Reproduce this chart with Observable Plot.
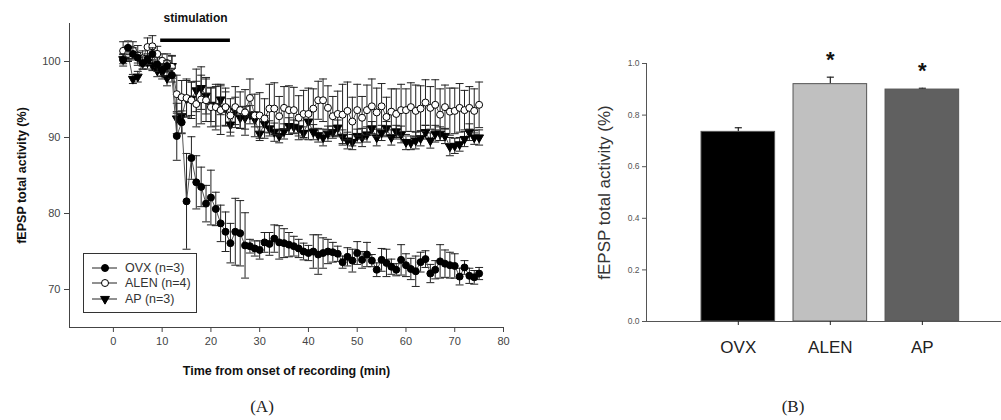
<!DOCTYPE html>
<html><head><meta charset="utf-8">
<script src="https://cdn.jsdelivr.net/npm/d3@7"></script>
<script src="https://cdn.jsdelivr.net/npm/@observablehq/plot@0.6"></script>
<style>
body{margin:0;background:#fff;width:1001px;height:420px;overflow:hidden;position:relative;font-family:Arial,"Liberation Sans",sans-serif}
#a{position:absolute;left:0;top:0}
#b{position:absolute;left:560px;top:0}
.cap{position:absolute;font-family:"Liberation Serif","DejaVu Serif",serif;font-size:17px;color:#222;transform:translateX(-50%)}
#legend{position:absolute;left:83px;top:253px;width:114px;height:60px;border:1px solid #333;box-sizing:border-box;background:#fff}
</style></head><body>
<div id="a"></div><div id="b"></div>
<div id="legend"></div>
<div class="cap" style="left:262px;top:397px">(A)</div>
<div class="cap" style="left:793px;top:397px">(B)</div>
<script>
// ---------- Panel A data ----------
const time = [2,3,4,5,6,7,8,9,10,11,12,13,14,15,16,17,18,19,20,21,22,23,24,25,26,27,28,29,30,31,32,33,34,35,36,37,38,39,40,41,42,43,44,45,46,47,48,49,50,51,52,53,54,55,56,57,58,59,60,61,62,63,64,65,66,67,68,69,70,71,72,73,74,75];
const ovx = [100.2,101.8,101.0,100.5,99.8,100.3,101.0,99.6,98.9,99.4,
  98.2,90.2,92.0,81.6,87.3,84.1,83.5,81.3,82.1,80.6,
  78.7,77.6,76.1,77.6,77.4,75.8,75.7,75.4,75.2,76.2,
  76.0,76.7,76.2,76.1,75.9,75.7,75.4,75.0,74.8,75.0,
  74.6,74.8,75.0,74.9,74.7,73.6,74.3,73.8,74.8,73.9,
  74.6,73.8,72.6,73.9,73.5,73.0,72.6,73.9,73.2,72.7,
  72.4,73.6,74.0,72.1,72.6,73.7,73.4,73.2,73.1,71.7,
  72.9,71.8,71.6,72.1];
const ovxErr = [0.8,0.9,0.8,0.7,0.8,0.7,0.8,0.9,0.8,0.7,
  0.9,3.2,1.5,6.3,2.8,3.5,2.6,2.4,3.6,2.2,
  2.4,2.6,2.6,4.4,4.3,4.3,0.9,1.0,1.2,1.3,
  1.5,1.8,2.2,1.9,1.6,1.3,1.2,1.1,1.0,2.2,
  2.6,2.0,1.6,1.3,1.0,0.8,1.2,1.5,1.5,1.1,
  1.6,0.8,0.9,1.5,1.8,1.0,0.8,2.0,1.5,1.4,
  2.0,1.3,1.1,1.2,1.2,2.2,1.8,1.7,1.6,1.1,
  0.9,1.0,0.9,0.8];
const alen = [101.4,101.0,101.5,100.8,100.4,101.9,102.0,101.0,100.1,99.8,
  99.3,95.7,95.3,95.2,94.9,94.4,95.0,94.9,94.0,94.0,
  93.6,94.0,92.9,94.0,93.6,93.3,95.2,92.9,92.9,92.5,
  93.8,93.8,92.8,93.9,93.6,93.6,92.6,93.1,93.1,93.8,
  94.9,94.9,93.9,92.8,93.1,93.0,93.5,92.1,93.6,92.6,
  93.6,94.1,93.3,94.1,92.7,93.4,93.1,93.6,93.6,94.0,
  93.5,93.8,94.6,93.9,94.3,93.0,94.0,93.4,93.5,93.9,
  93.6,93.9,93.5,94.3];
const alenErr = [1.2,1.0,1.1,1.3,1.0,1.2,1.4,1.0,0.9,1.2,
  1.5,2.5,2.2,2.5,2.4,3.0,3.2,2.8,2.6,3.0,
  3.2,2.5,2.2,2.7,2.4,3.0,2.5,2.8,3.0,2.6,
  3.2,3.4,2.6,2.8,3.2,3.0,2.9,3.1,3.4,2.6,
  2.5,2.8,2.9,2.6,3.0,4.0,3.8,3.2,3.4,2.8,
  3.3,3.6,3.2,3.0,2.6,3.0,3.3,3.4,2.8,3.2,
  3.4,3.0,3.0,2.8,3.3,3.4,2.9,3.1,3.0,3.2,
  2.6,2.8,2.9,3.0];
const ap = [100.3,101.0,97.7,98.0,99.8,99.9,99.5,98.8,98.6,97.8,
  99.4,92.5,92.8,95.1,95.1,96.2,96.5,95.5,94.3,94.1,
  95.0,93.8,91.7,93.5,92.6,92.6,93.0,92.4,90.5,91.8,
  91.2,90.7,90.2,90.8,91.5,91.4,91.2,90.6,92.1,90.7,
  90.3,90.0,90.5,90.7,91.3,90.1,89.6,89.4,90.2,90.0,
  90.4,91.2,90.0,90.6,91.2,90.0,90.8,90.4,89.4,89.3,
  89.6,89.9,90.7,89.6,90.5,90.5,90.2,88.8,88.9,89.1,
  89.8,90.7,90.0,90.0];
const apErr = [0.6,0.8,0.6,0.7,0.8,0.9,0.7,0.8,0.9,1.0,
  1.3,2.0,2.2,2.4,2.2,2.8,2.8,2.4,2.2,2.6,
  2.0,2.2,1.5,1.8,1.4,1.5,1.2,1.0,0.9,1.1,
  1.0,1.2,0.9,1.0,1.1,0.9,1.0,0.8,1.2,1.0,
  0.9,1.1,1.0,0.8,1.0,0.9,1.1,1.0,0.9,1.2,
  1.0,0.9,1.1,1.0,0.9,1.0,0.8,1.1,1.0,0.9,
  1.1,1.0,0.9,1.0,1.1,0.9,1.0,1.2,1.0,0.9,
  1.0,1.1,0.9,1.0];
const seriesNames = ["OVX","ALEN","AP"];
const legendLabels = ["OVX (n=3)","ALEN (n=4)","AP (n=3)"];
const xTicksA = [0,10,20,30,40,50,60,70,80];
const yTicksA = [70,80,90,100];
const stimulation = [9.7,24];
const stimLevel = 102.8;
const stimLabel = ["stimulation"];
const xLabelA = "Time from onset of recording (min)";
const yLabelA = "fEPSP total activity (%)";

// ---------- Panel B data ----------
const groups = ["OVX","ALEN","AP"];
const means = [0.735,0.920,0.899];
const sems = [0.016,0.027,0.005];
const sig = ["","*","*"];
const barColors = ["#000000","#c0c0c0","#606060"];
const yTicksB = [0,0.2,0.4,0.6,0.8,1.0];
const yLabelB = "fEPSP total activity (%)";

// ---------- helpers ----------
const capSymbol = {draw(ctx, size){ const w = Math.sqrt(size); ctx.moveTo(-w/2,0); ctx.lineTo(w/2,0); }};
const styles = {
  OVX: {symbol:"circle", fill:"#000", rotate:0, r:3.5},
  ALEN:{symbol:"circle", fill:"#fff", rotate:0, r:3.5},
  AP:  {symbol:"triangle", fill:"#000", rotate:180, r:3.3}
};
const vals = {OVX:[ovx,ovxErr], ALEN:[alen,alenErr], AP:[ap,apErr]};

const drawOrder = ["AP","ALEN","OVX"];
const marksA = [];
for (const s of drawOrder) {
  const rows = time.map((t,i)=>({t, v: vals[s][0][i], e: vals[s][1][i]}));
  marksA.push(
    Plot.ruleX(rows, {x:"t", y1:d=>d.v-d.e, y2:d=>d.v+d.e, stroke:"#222", strokeWidth:1}),
    Plot.dot(rows, {x:"t", y:d=>d.v+d.e, symbol:capSymbol, r:4.5, stroke:"#222", strokeWidth:1}),
    Plot.dot(rows, {x:"t", y:d=>d.v-d.e, symbol:capSymbol, r:4.5, stroke:"#222", strokeWidth:1}),
    Plot.line(rows, {x:"t", y:"v", stroke:"#555", strokeWidth:1}),
    Plot.dot(rows, {x:"t", y:"v", symbol:styles[s].symbol, r:styles[s].r, rotate:styles[s].rotate, fill:styles[s].fill, stroke:"#000", strokeWidth:1})
  );
}

const chartA = Plot.plot({
  width:560, height:385,
  marginLeft:69, marginRight:57, marginTop:23, marginBottom:58,
  style:{fontFamily:"Arial, 'Liberation Sans', sans-serif", background:"transparent"},
  x:{domain:[-9,80]},
  y:{domain:[65,105]},
  marks:[
    Plot.frame({anchor:"left", stroke:"#444"}),
    Plot.frame({anchor:"bottom", stroke:"#444"}),
    Plot.axisY({ticks:yTicksA, tickSize:5, tickPadding:4, fontSize:11, color:"#444",
      label:yLabelA, labelAnchor:"center", labelOffset:52}),
    Plot.axisX({ticks:xTicksA, tickSize:5, tickPadding:5, fontSize:11, color:"#444",
      label:xLabelA, labelAnchor:"center", labelOffset:47}),
    ...marksA,
    Plot.ruleY([stimLevel], {x1:stimulation[0], x2:stimulation[1], stroke:"#000", strokeWidth:3.5}),
    Plot.text(stimLabel, {x:(stimulation[0]+stimulation[1])/2, y:stimLevel, dy:-22, fontWeight:"bold", fontSize:12, fill:"#111"})
  ]
});
d3.select("#a").append(()=>chartA);
d3.select("#a").selectAll('g[aria-label="y-axis label"] text').text(yLabelA)
  .attr("font-size",12.5).attr("font-weight","bold").attr("fill","#111");
d3.select("#a").selectAll('g[aria-label="x-axis label"] text').text(xLabelA)
  .attr("font-size",12.5).attr("font-weight","bold").attr("fill","#111");

// legend
const lg = d3.select("#legend").append("svg").attr("width",112).attr("height",58);
const rowsY = [14,29,45];
seriesNames.forEach((s,i)=>{
  const g = lg.append("g").attr("transform",`translate(0,${rowsY[i]})`);
  g.append("line").attr("x1",8).attr("x2",33).attr("stroke","#222").attr("stroke-width",1);
  const sym = d3.symbol().type(styles[s].symbol==="circle"?d3.symbolCircle:d3.symbolTriangle).size(Math.PI*styles[s].r*styles[s].r)();
  g.append("path").attr("d",sym).attr("transform",`translate(21,0) rotate(${styles[s].rotate})`)
    .attr("fill",styles[s].fill).attr("stroke","#000");
  g.append("text").attr("x",41).attr("dy","0.35em").attr("font-size",12.5).attr("fill","#333")
    .attr("font-family","Arial, 'Liberation Sans', sans-serif").text(legendLabels[i]);
});

// ---------- Panel B ----------
const bars = groups.map((g,i)=>({g, m:means[i], e:sems[i], s:sig[i], c:barColors[i]}));
const chartB = Plot.plot({
  width:441, height:385,
  marginLeft:86, marginRight:0, marginTop:63, marginBottom:64,
  style:{fontFamily:"Arial, 'Liberation Sans', sans-serif", background:"transparent"},
  x:{domain:groups, paddingInner:0.2, paddingOuter:0.529, align:0.565, round:false},
  y:{domain:[0,1]},
  color:{type:"identity"},
  marks:[
    Plot.ruleX(bars, {x:"g", y1:"m", y2:d=>d.m+d.e, stroke:"#222", strokeWidth:1.2}),
    Plot.dot(bars, {x:"g", y:d=>d.m+d.e, symbol:capSymbol, r:4, stroke:"#222", strokeWidth:1.2}),
    Plot.barY(bars, {x:"g", y:"m", fill:"c", stroke:"#555", strokeWidth:1}),
    Plot.text(bars, {x:"g", y:d=>d.m+d.e, text:"s", dy:-17, fontSize:22, fontWeight:"bold", fill:"#111"}),
    Plot.frame({anchor:"left", stroke:"#555"}),
    Plot.frame({anchor:"bottom", stroke:"#555"}),
    Plot.axisY({ticks:yTicksB, tickFormat:d3.format(".1f"), tickSize:4, tickPadding:3, fontSize:8.5, color:"#555",
      label:yLabelB, labelAnchor:"center", labelOffset:49}),
    Plot.axisX({tickSize:4, tickPadding:15, fontSize:17, color:"#222", label:null})
  ]
});
d3.select("#b").append(()=>chartB);
d3.select("#b").selectAll('g[aria-label="y-axis label"] text').text(yLabelB)
  .attr("font-size",17).attr("fill","#333");
</script>
</body></html>
